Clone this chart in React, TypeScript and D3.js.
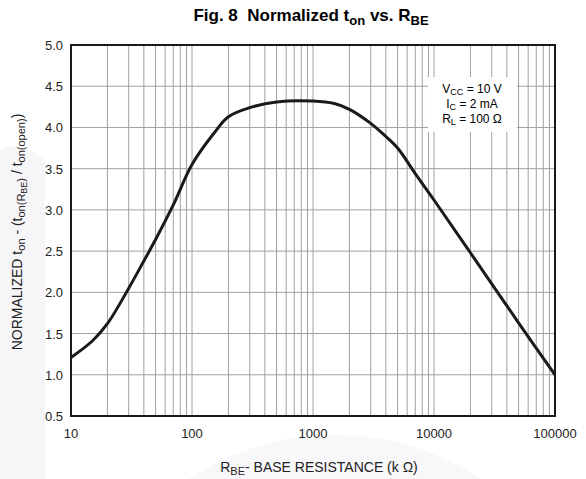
import * as d3 from "d3";

// R_BE in k ohm and normalized t_on
const rbe = [10, 15, 20, 30, 40, 50, 70, 100, 150, 200, 300, 500, 1000, 1500, 2000, 3000, 4000, 5000, 7000, 10000, 20000, 50000, 100000];
const ton = [1.21, 1.41, 1.62, 2.05, 2.38, 2.64, 3.06, 3.55, 3.92, 4.13, 4.24, 4.31, 4.32, 4.29, 4.22, 4.05, 3.89, 3.75, 3.44, 3.12, 2.48, 1.63, 1.0];

const xTicks = [10, 100, 1000, 10000, 100000];
const yTicks = [0.5, 1.0, 1.5, 2.0, 2.5, 3.0, 3.5, 4.0, 4.5, 5.0];

const W = 586;
const H = 479;
const left = 71, right = 555, top = 45, bottom = 416;
const font = "'Liberation Sans', Arial, sans-serif";

export default function App() {
  const x = d3.scaleLog().domain([10, 100000]).range([left, right]);
  const y = d3.scaleLinear().domain([0.5, 5.0]).range([bottom, top]);

  const minor: number[] = [];
  for (let d = 10; d < 100000; d *= 10) {
    for (let k = 2; k <= 9; k++) minor.push(d * k);
  }

  const line = d3
    .line<number>()
    .x((_, i) => x(rbe[i]))
    .y((d) => y(d))
    .curve(d3.curveCatmullRom.alpha(0.5));

  return (
    <svg width={W} height={H} style={{ position: "absolute", left: 0, top: 0 }} fontFamily={font}>
      <rect width={W} height={H} fill="#fff" />
      <path d={`M0,150 Q20,140 45,160 L45,${H} L0,${H} Z`} fill="#f6f5f8" />
      <circle cx={335} cy={700} r={265} fill="#f8f8fa" />

      <text x={311} y={21} textAnchor="middle" fontSize={17} fontWeight="bold" xmlSpace="preserve">
        {"Fig. 8  Normalized t"}
        <tspan fontSize={13} dy={4}>on</tspan>
        <tspan dy={-4}> vs. R</tspan>
        <tspan fontSize={13} dy={4}>BE</tspan>
      </text>

      <rect x={left} y={top} width={right - left} height={bottom - top} fill="#fff" />

      {minor.map((v) => (
        <line key={"m" + v} x1={x(v)} x2={x(v)} y1={top} y2={bottom} stroke="#a0a0a0" strokeWidth={1} />
      ))}
      {xTicks.map((v) => (
        <line key={"x" + v} x1={x(v)} x2={x(v)} y1={top} y2={bottom} stroke="#a0a0a0" strokeWidth={1} />
      ))}
      {yTicks.map((v) => (
        <line key={"y" + v} x1={left} x2={right} y1={y(v)} y2={y(v)} stroke="#a0a0a0" strokeWidth={1} />
      ))}

      <g>
        <rect x={428} y={77} width={89} height={55} fill="#fff" />
        <text x={472} y={93} textAnchor="middle" fontSize={12}>
          V<tspan fontSize={9} dy={2}>CC</tspan>
          <tspan dy={-2}> = 10 V</tspan>
        </text>
        <text x={472} y={108} textAnchor="middle" fontSize={12}>
          I<tspan fontSize={9} dy={2}>C</tspan>
          <tspan dy={-2}> = 2 mA</tspan>
        </text>
        <text x={472} y={123} textAnchor="middle" fontSize={12}>
          R<tspan fontSize={9} dy={2}>L</tspan>
          <tspan dy={-2}> = 100 Ω</tspan>
        </text>
      </g>

      <path d={line(ton) || ""} fill="none" stroke="#1a1a1a" strokeWidth={3} strokeLinejoin="round" />

      <rect x={left} y={top} width={right - left} height={bottom - top} fill="none" stroke="#1a1a1a" strokeWidth={2} />

      {yTicks.map((v) => (
        <text key={"yl" + v} x={63} y={y(v) + 5} textAnchor="end" fontSize={13} fill="#222">
          {v.toFixed(1)}
        </text>
      ))}
      {xTicks.map((v) => (
        <text key={"xl" + v} x={x(v)} y={438} textAnchor="middle" fontSize={13} fill="#222">
          {v}
        </text>
      ))}

      <text x={319} y={472} textAnchor="middle" fontSize={14} fill="#222">
        R<tspan fontSize={11} dy={3}>BE</tspan>
        <tspan dy={-3}>- BASE RESISTANCE (k Ω)</tspan>
      </text>

      <text transform={`translate(22, ${232}) rotate(-90)`} textAnchor="middle" fontSize={14} fill="#222">
        NORMALIZED t<tspan fontSize={11} dy={3}>on</tspan>
        <tspan dy={-3}> - (t</tspan>
        <tspan fontSize={11} dy={3}>on(R</tspan>
        <tspan fontSize={9} dy={2}>BE</tspan>
        <tspan fontSize={11} dy={-2}>)</tspan>
        <tspan dy={-3}> / t</tspan>
        <tspan fontSize={11} dy={3}>on(open)</tspan>
        <tspan dy={-3}>)</tspan>
      </text>
    </svg>
  );
}
